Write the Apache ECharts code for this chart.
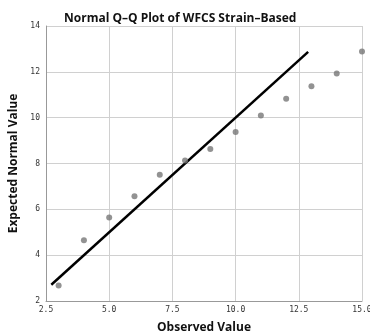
<!DOCTYPE html>
<html>
<head>
<meta charset="utf-8">
<script src="https://cdn.jsdelivr.net/npm/echarts@6/dist/echarts.min.js"></script>
<style>
  html, body { margin: 0; padding: 0; background: #fff; }
  #main { width: 370px; height: 335px; }
</style>
</head>
<body>
<div id="main"></div>
<script>
// observed vs expected normal values
const observed = [3, 4, 5, 6, 7, 8, 9, 10, 11, 12, 13, 14, 15];
const expected = [2.68, 4.65, 5.64, 6.57, 7.51, 8.13, 8.63, 9.37, 10.1, 10.83, 11.37, 11.93, 12.89];
// reference line y = x
const lineX = [2.71, 12.87];
const lineY = [2.71, 12.87];

var chartDom = document.getElementById('main');
var myChart = echarts.init(chartDom);

const points = observed.map((x, i) => [x, expected[i]]);
const linePts = lineX.map((x, i) => [x, lineY[i]]);

const tickStyle = { fontFamily: 'DejaVu Sans Mono', fontSize: 8, color: '#333' };

var option = {
  backgroundColor: '#fff',
  animation: false,
  title: {
    text: 'Normal Q\u2013Q Plot of WFCS Strain\u2013Based',
    left: 59, top: 8,
    textStyle: { fontFamily: 'Open Sans', fontWeight: 'bold', fontSize: 12, color: '#111' }
  },
  grid: { left: 46, right: 8, top: 26, bottom: 34, outerBoundsMode: 'none' },
  xAxis: {
    type: 'value', min: 2.5, max: 15, interval: 2.5,
    name: 'Observed Value', nameLocation: 'middle', nameGap: 21,
    nameTextStyle: { fontFamily: 'Open Sans', fontWeight: 'bold', fontSize: 12, color: '#111' },
    axisLine: { show: true, lineStyle: { color: '#999' } },
    axisTick: { show: false },
    axisLabel: Object.assign({ formatter: v => v.toFixed(1), margin: 5 }, tickStyle),
    splitLine: { show: true, lineStyle: { color: '#d0d0d0' } }
  },
  yAxis: {
    type: 'value', min: 2, max: 14, interval: 2,
    name: 'Expected Normal Value', nameLocation: 'middle', nameGap: 26,
    nameTextStyle: { fontFamily: 'Open Sans', fontWeight: 'bold', fontSize: 12, color: '#111' },
    axisLine: { show: true, lineStyle: { color: '#999' } },
    axisTick: { show: false },
    axisLabel: Object.assign({ margin: 6 }, tickStyle),
    splitLine: { show: true, lineStyle: { color: '#d0d0d0' } }
  },
  series: [
    {
      type: 'line',
      data: linePts,
      symbol: 'none',
      lineStyle: { color: '#000', width: 2.5 },
      z: 2
    },
    {
      type: 'scatter',
      data: points,
      symbolSize: 6,
      itemStyle: { color: '#777' },
      z: 3
    }
  ]
};

myChart.setOption(option, true);
</script>
</body>
</html>
